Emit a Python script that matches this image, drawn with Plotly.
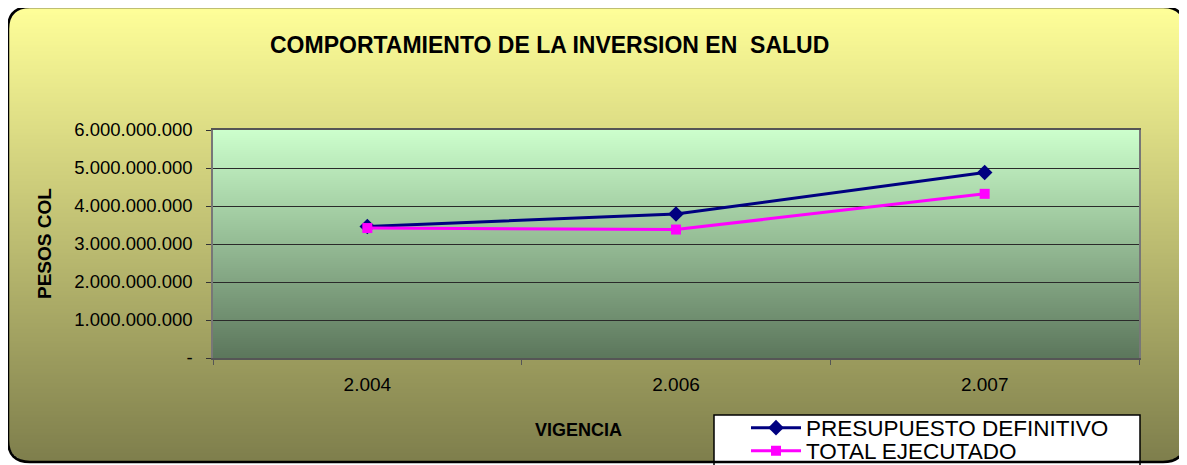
import plotly.graph_objects as go

# ---------------- data ----------------
years = ["2.004", "2.006", "2.007"]
presupuesto = [3.46e9, 3.79e9, 4.88e9]
ejecutado = [3.42e9, 3.38e9, 4.32e9]
y_tickvals = [0, 1e9, 2e9, 3e9, 4e9, 5e9, 6e9]
y_ticktext = ["-", "1.000.000.000", "2.000.000.000", "3.000.000.000",
              "4.000.000.000", "5.000.000.000", "6.000.000.000"]

# the page body has an 8px margin, so the figure is drawn 8px smaller
OFF = 8
W, H = 1187 - OFF, 465 - OFF
L, R, T, B = 213, 1139, 130, 358  # plot area box in page pixels


def px(x):
    return (x - L) / (R - L)


def py(y):
    return (B - y) / (B - T)


def lerp(c1, c2, t):
    return "rgb(%d,%d,%d)" % tuple(round(a + (b - a) * t) for a, b in zip(c1, c2))


shapes = []
# outer rounded panel with vertical gradient
ox0, oy0, ox1, oy1, rad = 8, 7, 1185, 462, 22
top_c, bot_c = (255, 255, 153), (126, 126, 76)
step = 2
y = oy0
while y < oy1:
    y2 = min(y + step, oy1)
    yc = (y + y2) / 2
    inset = 0
    if yc < oy0 + rad:
        d = oy0 + rad - yc
        inset = rad - (rad ** 2 - d ** 2) ** 0.5
    elif yc > oy1 - rad:
        d = yc - (oy1 - rad)
        inset = rad - (rad ** 2 - d ** 2) ** 0.5
    t = (yc - oy0) / (oy1 - oy0)
    shapes.append(dict(type="rect", xref="paper", yref="paper", layer="below",
                       x0=px(ox0 + inset), x1=px(ox1 - inset), y0=py(y), y1=py(y2 + 0.6),
                       fillcolor=lerp(top_c, bot_c, t), line=dict(width=0)))
    y = y2

# plot area gradient
p_top, p_bot = (204, 255, 204), (92, 118, 92)
y = T
while y < B:
    y2 = min(y + step, B)
    t = ((y + y2) / 2 - T) / (B - T)
    shapes.append(dict(type="rect", xref="paper", yref="paper", layer="below",
                       x0=0, x1=1, y0=py(y), y1=py(y2 + 0.6),
                       fillcolor=lerp(p_top, p_bot, t), line=dict(width=0)))
    y = y2

# legend box
shapes.append(dict(type="rect", xref="paper", yref="paper", layer="above",
                   x0=px(714), x1=px(1140), y0=py(415), y1=py(475),
                   fillcolor="white", line=dict(color="black", width=1.5)))


# outer border path with rounded corners
def P(x, y):
    return "%f,%f" % (px(x), py(y))


path = ("M " + P(ox0, oy0 + rad) +
        " Q " + P(ox0, oy0) + " " + P(ox0 + rad, oy0) +
        " L " + P(ox1 - rad, oy0) +
        " Q " + P(ox1, oy0) + " " + P(ox1, oy0 + rad) +
        " L " + P(ox1, oy1 - rad) +
        " Q " + P(ox1, oy1) + " " + P(ox1 - rad, oy1) +
        " L " + P(ox0 + rad, oy1) +
        " Q " + P(ox0, oy1) + " " + P(ox0, oy1 - rad) + " Z")
shapes.append(dict(type="path", xref="paper", yref="paper", layer="above",
                   path=path, line=dict(color="black", width=2.5)))

fig = go.Figure()
fig.add_trace(go.Scatter(
    x=years, y=presupuesto, name="PRESUPUESTO DEFINITIVO", mode="lines+markers",
    line=dict(color="#000080", width=3), legend="legend",
    marker=dict(symbol="diamond", size=12, color="#000080")))
fig.add_trace(go.Scatter(
    x=years, y=ejecutado, name="TOTAL EJECUTADO", mode="lines+markers",
    line=dict(color="#FF00FF", width=3), legend="legend2",
    marker=dict(symbol="square", size=10, color="#FF00FF")))

font = "Liberation Sans, Arial, sans-serif"
annotations = [
    dict(text="<b>COMPORTAMIENTO DE LA INVERSION EN\u00a0 SALUD</b>", x=px(549), y=py(45),
         xref="paper", yref="paper", showarrow=False, font=dict(size=23, color="black"),
         xanchor="center", yanchor="middle"),
    dict(text="<b>PESOS COL</b>", x=px(44), y=py(244), xref="paper", yref="paper",
         showarrow=False, textangle=-90, font=dict(size=19, color="black"),
         xanchor="center", yanchor="middle"),
    dict(text="<b>VIGENCIA</b>", x=px(578), y=py(430), xref="paper", yref="paper",
         showarrow=False, font=dict(size=18, color="black"),
         xanchor="center", yanchor="middle"),
]

leg_common = dict(xanchor="left", yanchor="middle", bgcolor="rgba(0,0,0,0)",
                  borderwidth=0, font=dict(size=22.5, color="black"), itemwidth=50)

fig.update_layout(
    width=W, height=H,
    margin=dict(l=L - OFF, r=W - (R - OFF), t=T - OFF, b=H - (B - OFF), pad=0,
                autoexpand=False),
    paper_bgcolor="white", plot_bgcolor="rgba(0,0,0,0)",
    font=dict(family=font, color="black", size=15),
    shapes=shapes, annotations=annotations,
    showlegend=True,
    legend=dict(x=px(746), y=py(428), **leg_common),
    legend2=dict(x=px(746), y=py(451), **leg_common),
    xaxis=dict(type="category", range=[-0.5, 2.5], tickson="boundaries",
               ticks="outside", ticklen=5, tickcolor="#555", ticklabelstandoff=8,
               showline=True, linecolor="#555", linewidth=1.5, mirror=True,
               showgrid=False, tickfont=dict(size=19), fixedrange=True),
    yaxis=dict(range=[0, 6e9], tickvals=y_tickvals, ticktext=y_ticktext,
               ticks="outside", ticklen=5, tickcolor="#333", ticklabelstandoff=10,
               showline=True, linecolor="#777", linewidth=1.5, mirror=True,
               showgrid=True, gridcolor="#2a2a2a", gridwidth=1,
               zeroline=False, tickfont=dict(size=18.5), fixedrange=True),
)

fig.write_html("out.html")
